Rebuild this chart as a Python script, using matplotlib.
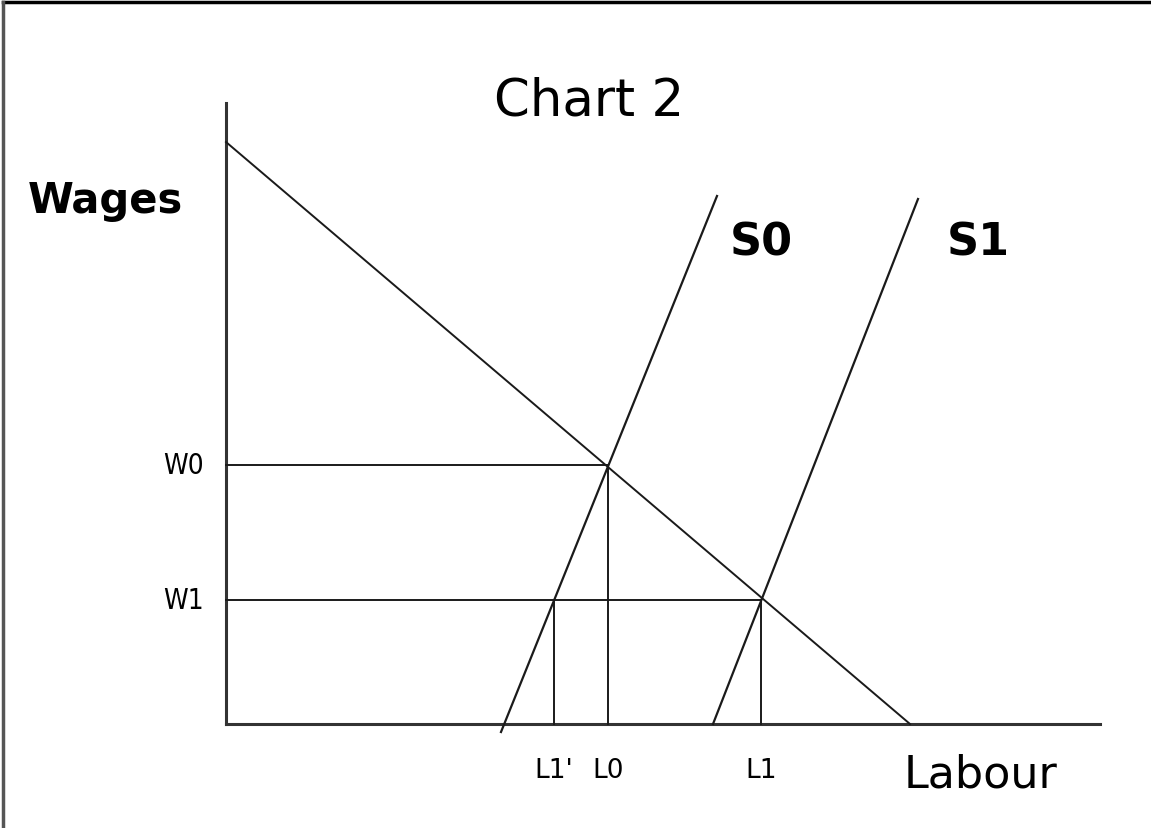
import matplotlib
matplotlib.use("Agg")
import matplotlib.pyplot as plt
from matplotlib.lines import Line2D

# supply / demand lines (labour on x, wages on y)
demand_x = [0, 68.4]
demand_y = [58.2, 0]
s0_x = [27.5, 49.1]
s0_y = [-0.8, 52.8]
s1_x = [48.7, 69.2]
s1_y = [0, 52.5]

# equilibrium levels
w_levels = [25.9, 12.4]
w_labels = ["W0", "W1"]
w_ends = [38.2, 53.5]
l_levels = [32.8, 38.2, 53.5]
l_labels = ["L1'", "L0", "L1"]
l_tops = [12.4, 25.9, 12.4]

fig = plt.figure(figsize=(11.51, 8.29), dpi=100)
ax = fig.add_axes([0, 0, 1, 1])
ax.set_xlim(-22.6, 92.5)
ax.set_ylim(-10.4, 72.5)
ax.axis("off")

# frame lines of the image (top and left)
fig.add_artist(Line2D([0.003, 1], [0.996, 0.996], color="black", lw=2.5))
fig.add_artist(Line2D([0.003, 0.003], [0, 0.996], color="#555555", lw=2.5))

axc = "#333333"
lc = "#1a1a1a"
ax.plot([0, 0], [0, 62.1], color=axc, lw=2.2)
ax.plot([0, 87.4], [0, 0], color=axc, lw=2.2)

ax.plot(demand_x, demand_y, color=lc, lw=1.4)
ax.plot(s0_x, s0_y, color=lc, lw=1.6)
ax.plot(s1_x, s1_y, color=lc, lw=1.6)

for w, lab, xe in zip(w_levels, w_labels, w_ends):
    ax.plot([0, xe], [w, w], color=lc, lw=1.4)
    ax.text(-2.2, w, lab, ha="right", va="center", fontsize=20,
            fontstretch="condensed")

for l, lab, yt in zip(l_levels, l_labels, l_tops):
    ax.plot([l, l], [0, yt], color=lc, lw=1.4)
    ax.text(l, -4.6, lab, ha="center", va="center", fontsize=19)

ax.text(36.3, 61.0, "Chart 2", ha="center", va="baseline", fontsize=37)
ax.text(-19.8, 51.2, "Wages", ha="left", va="baseline", fontsize=30,
        fontweight="bold")
ax.text(50.4, 47.0, "S0", ha="left", va="baseline", fontsize=32,
        fontweight="bold")
ax.text(72.1, 47.0, "S1", ha="left", va="baseline", fontsize=32,
        fontweight="bold")
ax.text(67.8, -6.3, "Labour", ha="left", va="baseline", fontsize=32)

fig.savefig("out.png", dpi=100)
